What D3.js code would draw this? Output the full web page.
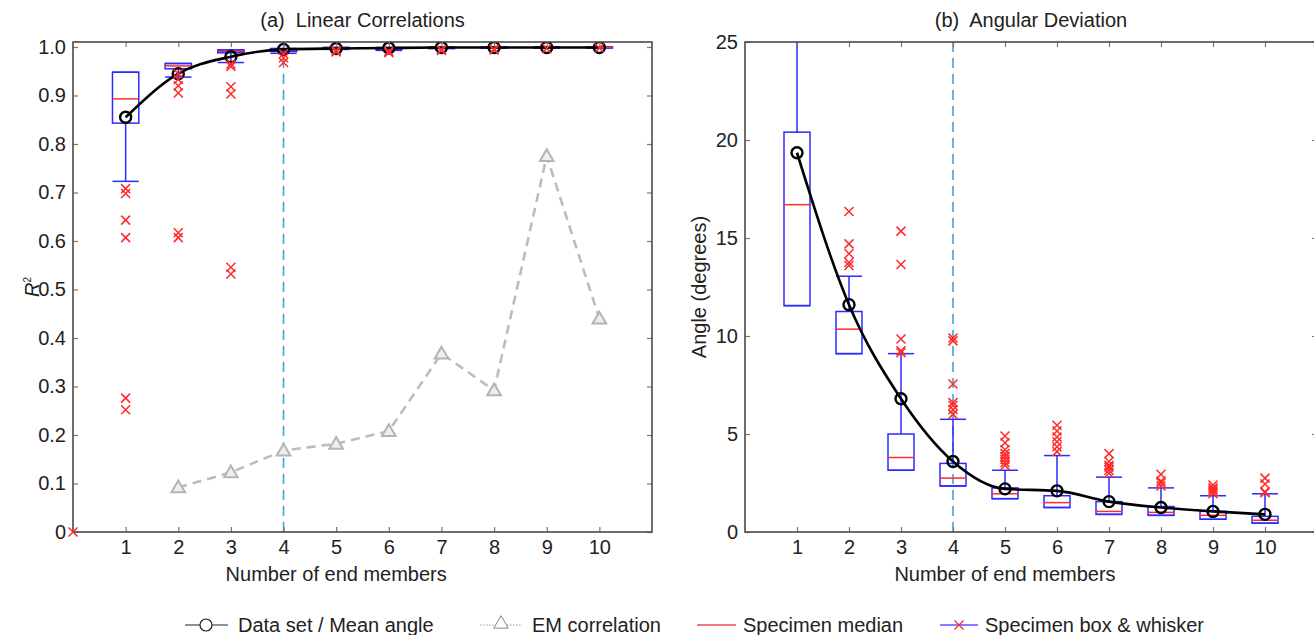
<!DOCTYPE html>
<html>
<head>
<meta charset="utf-8">
<script src="https://cdnjs.cloudflare.com/ajax/libs/d3/7.8.5/d3.min.js"></script>
<style>
body { margin: 0; background: #fff; }
text { font-family: "Liberation Sans", Arial, sans-serif; fill: #222; white-space: pre; }
</style>
</head>
<body>
<script>
var width = 1314,
    height = 635;

// end member counts
var members = [1, 2, 3, 4, 5, 6, 7, 8, 9, 10];

// (a) linear correlations, R^2
var r2Mean = [0.855, 0.945, 0.980, 0.995, 0.997, 0.998, 0.999, 0.999, 0.999, 0.999];
var r2Lo   = [0.723, 0.938, 0.968, 0.987, 0.995, 0.993, 0.997, 0.998, 0.998, 0.998];
var r2Q1   = [0.843, 0.955, 0.988, 0.991, 0.997, 0.995, 0.998, 0.999, 0.999, 0.999];
var r2Med  = [0.893, 0.961, 0.991, 0.994, 0.998, 0.997, 0.999, 0.999, 0.999, 0.999];
var r2Q3   = [0.948, 0.966, 0.994, 0.996, 0.999, 0.998, 0.999, 1.000, 1.000, 1.000];
var r2Hi   = [0.948, 0.966, 0.994, 0.997, 0.999, 0.999, 1.000, 1.000, 1.000, 1.000];
var r2Out  = [
    [0.708, 0.698, 0.643, 0.607, 0.276, 0.252],
    [0.945, 0.933, 0.920, 0.905, 0.617, 0.607],
    [0.965, 0.960, 0.918, 0.903, 0.546, 0.532],
    [0.986, 0.978, 0.968],
    [0.993, 0.990],
    [0.991, 0.988],
    [0.995, 0.993],
    [0.996, 0.994],
    [0.997],
    [0.998]
];
var r2Stray = [[0, 0]];   // the lone cross at the origin
var emMembers = [2, 3, 4, 5, 6, 7, 8, 9, 10];
var emCorr = [0.092, 0.123, 0.168, 0.182, 0.208, 0.368, 0.292, 0.775, 0.440];
var r2Ticks = [0, 0.1, 0.2, 0.3, 0.4, 0.5, 0.6, 0.7, 0.8, 0.9, 1.0];

// (b) angular deviation, degrees
var angMean = [19.35, 11.6, 6.8, 3.6, 2.2, 2.1, 1.55, 1.25, 1.05, 0.9];
var angLo   = [11.55, 9.1, 3.15, 2.35, 1.7, 1.25, 0.9, 0.85, 0.65, 0.45];
var angQ1   = [11.55, 9.1, 3.15, 2.35, 1.7, 1.25, 0.9, 0.85, 0.65, 0.45];
var angMed  = [16.7, 10.35, 3.8, 2.75, 1.95, 1.5, 1.05, 1.0, 0.85, 0.6];
var angQ3   = [20.4, 11.25, 5.0, 3.5, 2.25, 1.85, 1.55, 1.3, 1.05, 0.8];
var angHi   = [27, 13.05, 9.1, 5.75, 3.15, 3.9, 2.8, 2.25, 1.85, 1.95];
var angOut  = [
    [],
    [16.35, 14.7, 14.2, 13.75, 13.6],
    [15.35, 13.65, 9.85, 9.25, 9.15],
    [9.9, 9.75, 7.55, 6.6, 6.45, 6.25, 6.0],
    [4.9, 4.55, 4.2, 4.0, 3.85, 3.7, 3.55, 3.4],
    [5.45, 5.15, 4.85, 4.6, 4.35, 4.1],
    [4.0, 3.6, 3.4, 3.3, 3.15, 3.0],
    [2.95, 2.6, 2.5, 2.35],
    [2.4, 2.25, 2.15, 2.05, 1.95],
    [2.75, 2.45, 2.05, 2.0]
];
var angTicks = [0, 5, 10, 15, 20, 25];

var chosen = 4;

var svg = d3.select("body").append("svg")
    .attr("width", width)
    .attr("height", height)
    .style("background", "#fff");

var plotTop = 42, plotBottom = 532;
var blue = "#2b2bff", red = "#ff2a2a";
var fs = "20px";

function crossPath(s) {
    return "M" + (-s) + "," + (-s) + "L" + s + "," + s + "M" + (-s) + "," + s + "L" + s + "," + (-s);
}

function drawPanel(opt) {
    var x = d3.scaleLinear().domain([0, 11]).range([opt.left, opt.right]);
    var y = d3.scaleLinear().domain(opt.yDomain).range([plotBottom, plotTop]);
    var g = svg.append("g");

    g.append("clipPath").attr("id", opt.id)
        .append("rect")
        .attr("x", opt.left).attr("y", plotTop)
        .attr("width", opt.right - opt.left).attr("height", plotBottom - plotTop);

    var plot = g.append("g").attr("clip-path", "url(#" + opt.id + ")");

    // axes with inward ticks
    var ax = g.append("g").attr("class", "axes");
    ax.append("g").attr("transform", "translate(0," + plotBottom + ")")
        .call(d3.axisBottom(x).tickValues(members).tickSize(-5).tickPadding(8));
    ax.append("g").attr("transform", "translate(0," + plotTop + ")")
        .call(d3.axisTop(x).tickValues(members).tickSize(-5).tickFormat(""));
    ax.append("g").attr("transform", "translate(" + opt.left + ",0)")
        .call(d3.axisLeft(y).tickValues(opt.yTicks).tickSize(-5).tickPadding(7).tickFormat(opt.fmt));
    ax.append("g").attr("transform", "translate(" + opt.right + ",0)")
        .call(d3.axisRight(y).tickValues(opt.yTicks).tickSize(-5).tickFormat(""));
    ax.selectAll(".domain").remove();
    ax.selectAll(".tick line").attr("stroke", "#777").attr("stroke-width", 1.2);
    ax.selectAll("text").style("font-size", fs).attr("fill", "#222");

    g.append("rect")
        .attr("x", opt.left).attr("y", plotTop)
        .attr("width", opt.right - opt.left).attr("height", plotBottom - plotTop)
        .attr("fill", "none").attr("stroke", "#4a4a4a").attr("stroke-width", 1.6);

    // selected number of end members
    plot.append("line")
        .attr("x1", x(chosen)).attr("x2", x(chosen))
        .attr("y1", plotTop).attr("y2", plotBottom)
        .attr("stroke", "#3aa6dd").attr("stroke-width", 1.6)
        .attr("stroke-dasharray", "10,6");

    if (opt.em) {
        var emData = emMembers.map(function(m, i) { return [m, emCorr[i]]; });
        plot.append("path").datum(emData)
            .attr("fill", "none").attr("stroke", "#bcbcbc").attr("stroke-width", 2.6)
            .attr("stroke-dasharray", "9,6")
            .attr("d", d3.line().x(function(d) { return x(d[0]); }).y(function(d) { return y(d[1]); }));
        plot.selectAll(".tri").data(emData).enter().append("path")
            .attr("transform", function(d) { return "translate(" + x(d[0]) + "," + (y(d[1]) + 1) + ")"; })
            .attr("d", d3.symbol().type(d3.symbolTriangle).size(80))
            .attr("fill", "#eee").attr("stroke", "#b4b4b4").attr("stroke-width", 2);
    }

    var bw = 0.25;
    var boxes = members.map(function(m, i) {
        return { m: m, lo: opt.lo[i], q1: opt.q1[i], med: opt.med[i], q3: opt.q3[i], hi: opt.hi[i] };
    });
    var bx = plot.selectAll(".box").data(boxes).enter().append("g");
    bx.append("line")
        .attr("x1", function(d) { return x(d.m); }).attr("x2", function(d) { return x(d.m); })
        .attr("y1", function(d) { return y(d.q3); }).attr("y2", function(d) { return y(d.hi); })
        .attr("stroke", blue).attr("stroke-width", 1.5);
    bx.append("line")
        .attr("x1", function(d) { return x(d.m); }).attr("x2", function(d) { return x(d.m); })
        .attr("y1", function(d) { return y(d.q1); }).attr("y2", function(d) { return y(d.lo); })
        .attr("stroke", blue).attr("stroke-width", 1.5);
    bx.append("line")
        .attr("x1", function(d) { return x(d.m - bw); }).attr("x2", function(d) { return x(d.m + bw); })
        .attr("y1", function(d) { return y(d.hi); }).attr("y2", function(d) { return y(d.hi); })
        .attr("stroke", blue).attr("stroke-width", 1.5);
    bx.append("line")
        .attr("x1", function(d) { return x(d.m - bw); }).attr("x2", function(d) { return x(d.m + bw); })
        .attr("y1", function(d) { return y(d.lo); }).attr("y2", function(d) { return y(d.lo); })
        .attr("stroke", blue).attr("stroke-width", 1.5);
    bx.append("rect")
        .attr("x", function(d) { return x(d.m - bw); })
        .attr("width", function(d) { return x(d.m + bw) - x(d.m - bw); })
        .attr("y", function(d) { return y(d.q3); })
        .attr("height", function(d) { return Math.max(1, y(d.q1) - y(d.q3)); })
        .attr("fill", "none").attr("stroke", blue).attr("stroke-width", 1.5);
    bx.append("line")
        .attr("x1", function(d) { return x(d.m - bw); }).attr("x2", function(d) { return x(d.m + bw); })
        .attr("y1", function(d) { return y(d.med); }).attr("y2", function(d) { return y(d.med); })
        .attr("stroke", red).attr("stroke-width", 1.5);

    // mean / data set line
    var meanData = members.map(function(m, i) { return [m, opt.mean[i]]; });
    plot.append("path").datum(meanData)
        .attr("fill", "none").attr("stroke", "#000").attr("stroke-width", 2.6)
        .attr("d", d3.line().x(function(d) { return x(d[0]); }).y(function(d) { return y(d[1]); })
            .curve(d3.curveMonotoneX));
    plot.selectAll(".mean").data(meanData).enter().append("circle")
        .attr("cx", function(d) { return x(d[0]); })
        .attr("cy", function(d) { return y(d[1]); })
        .attr("r", 5.5)
        .attr("fill", "none").attr("stroke", "#000").attr("stroke-width", 2.4);

    // outliers
    var pts = [];
    opt.out.forEach(function(list, i) {
        list.forEach(function(v) { pts.push([members[i], v]); });
    });
    (opt.stray || []).forEach(function(p) { pts.push(p); });
    g.selectAll(".out").data(pts).enter().append("path")
        .attr("transform", function(d) { return "translate(" + x(d[0]) + "," + y(d[1]) + ")"; })
        .attr("d", crossPath(4.5))
        .attr("fill", "none").attr("stroke", red).attr("stroke-width", 1.5);

    // titles and labels
    g.append("text")
        .attr("x", (opt.left + opt.right) / 2).attr("y", 27)
        .attr("text-anchor", "middle").style("font-size", fs)
        .text(opt.title);
    g.append("text")
        .attr("x", x(5)).attr("y", 581)
        .attr("text-anchor", "middle").style("font-size", fs)
        .text("Number of end members");
    var yl = g.append("text")
        .attr("transform", "translate(" + opt.ylabelX + "," + ((plotTop + plotBottom) / 2) + ") rotate(-90)")
        .attr("text-anchor", "middle").style("font-size", fs);
    if (opt.ylabel === "R2") {
        yl.append("tspan").style("font-style", "italic").text("R");
        yl.append("tspan").attr("dy", -8).style("font-size", "10px").text("2");
    } else {
        yl.text(opt.ylabel);
    }
}

drawPanel({
    id: "clipA", left: 73, right: 652, yDomain: [0, 1.0103],
    yTicks: r2Ticks,
    fmt: function(d) { return d === 0 ? "0" : d3.format(".1f")(d); },
    mean: r2Mean, lo: r2Lo, q1: r2Q1, med: r2Med, q3: r2Q3, hi: r2Hi,
    out: r2Out, stray: r2Stray, em: true,
    title: "(a)  Linear Correlations", ylabel: "R2", ylabelX: 39
});

drawPanel({
    id: "clipB", left: 745, right: 1317, yDomain: [0, 25],
    yTicks: angTicks,
    fmt: d3.format("d"),
    mean: angMean, lo: angLo, q1: angQ1, med: angMed, q3: angQ3, hi: angHi,
    out: angOut, em: false,
    title: "(b)  Angular Deviation", ylabel: "Angle (degrees)", ylabelX: 706
});

// legend along the bottom
var legY = 625;
var leg = svg.append("g");
function legText(xp, t) {
    leg.append("text").attr("x", xp).attr("y", legY + 6.5).style("font-size", fs).text(t);
}
leg.append("line").attr("x1", 185).attr("x2", 228).attr("y1", legY).attr("y2", legY)
    .attr("stroke", "#222").attr("stroke-width", 1.2);
leg.append("circle").attr("cx", 206).attr("cy", legY).attr("r", 6)
    .attr("fill", "#fff").attr("stroke", "#222").attr("stroke-width", 1.2);
legText(238, "Data set / Mean angle");

leg.append("line").attr("x1", 480).attr("x2", 522).attr("y1", legY).attr("y2", legY)
    .attr("stroke", "#999").attr("stroke-width", 1).attr("stroke-dasharray", "1.5,1.5");
leg.append("path").attr("transform", "translate(501," + (legY - 1) + ")")
    .attr("d", d3.symbol().type(d3.symbolTriangle).size(90))
    .attr("fill", "#fff").attr("stroke", "#888").attr("stroke-width", 1);
legText(532, "EM correlation");

leg.append("line").attr("x1", 697).attr("x2", 736).attr("y1", legY).attr("y2", legY)
    .attr("stroke", "#e85050").attr("stroke-width", 1.5);
legText(743, "Specimen median");

leg.append("line").attr("x1", 940).attr("x2", 978).attr("y1", legY).attr("y2", legY)
    .attr("stroke", "#5555ff").attr("stroke-width", 1.5);
leg.append("path").attr("transform", "translate(959," + legY + ")")
    .attr("d", crossPath(4.5))
    .attr("fill", "none").attr("stroke", red).attr("stroke-width", 1.3);
legText(985, "Specimen box & whisker");
</script>
</body>
</html>
